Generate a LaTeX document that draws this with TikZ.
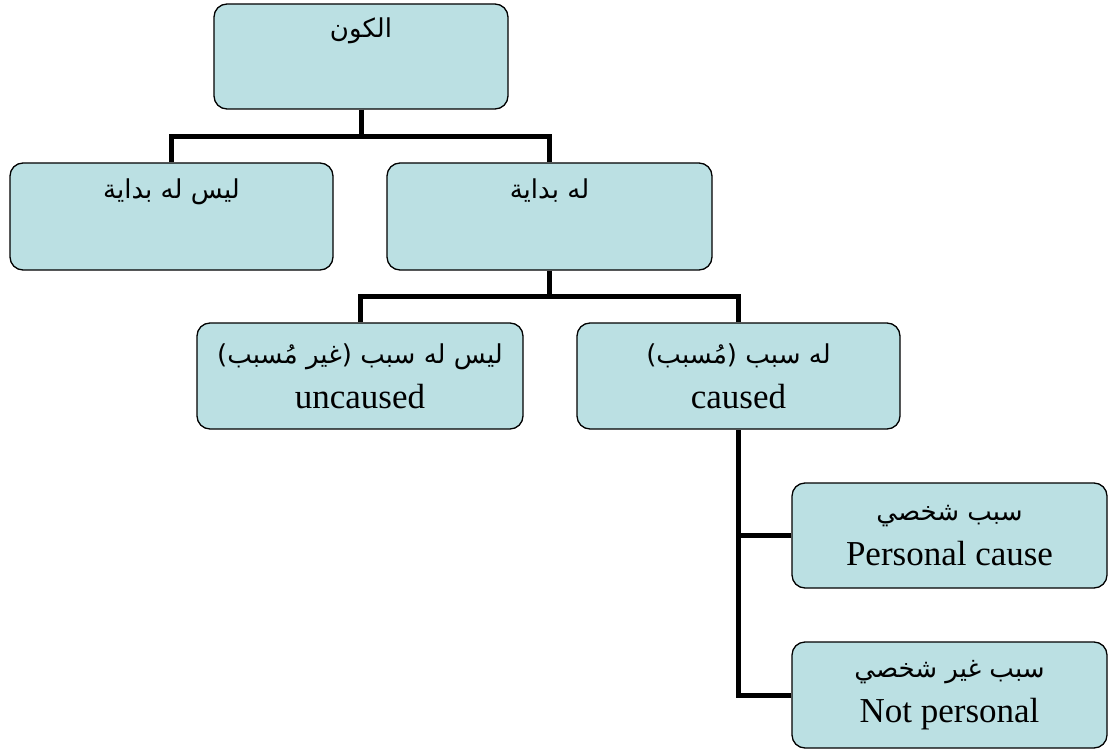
\documentclass[tikz,border=0pt]{standalone}
\usepackage{fontspec}
\setmainfont{Liberation Serif}
\newfontfamily\arabicfont[Script=Arabic]{DejaVu Sans}
\TeXXeTstate=1
\usetikzlibrary{positioning}
\definecolor{boxblue}{RGB}{187,224,227}
\tikzset{
  box/.style={draw, fill=boxblue, rounded corners=13pt, line width=1.3pt, inner sep=0pt},
  conn/.style={line width=5pt},
  ar/.style={anchor=base, font=\arabicfont\fontsize{26}{30}\selectfont},
  lbl/.style={align=center, font=\fontsize{35}{45}\selectfont}
}
\newcommand{\ar}[1]{{\arabicfont\fontsize{26}{30}\selectfont\beginR #1\endR}}
\begin{document}
\begin{tikzpicture}[x=1pt,y=-1pt]
\useasboundingbox (0,0) rectangle (1110,751);

\node[box, minimum width=294, minimum height=105](kawn) at (361,56.5){};
\node[box, minimum width=323, minimum height=107](nobeg) at (171.5,216.5){};
\node[box, minimum width=325, minimum height=107](beg) at (549.5,216.5){};
\node[box, minimum width=326, minimum height=106, lbl](uncaused) at (360,376){\ar{ليس له سبب (غير مُسبب)}\\uncaused};
\node[box, minimum width=323, minimum height=106, lbl](caused) at (738.5,376){\ar{له سبب (مُسبب)}\\caused};
\node[box, minimum width=315, minimum height=105, lbl](personal) at (949.5,535.5){\ar{سبب شخصي}\\Personal cause};
\node[box, minimum width=315, minimum height=106, lbl](notpersonal) at (949.5,695){\ar{سبب غير شخصي}\\Not personal};

% titles at the top of the upper boxes
\node[ar](kawnT) at (361,38){\beginR الكون\endR};
\node[ar](nobegT) at (171.5,199){\beginR ليس له بداية\endR};
\node[ar](begT) at (549.5,199){\beginR له بداية\endR};

\coordinate(j1) at (361,137);
\coordinate(j2) at (549.5,296);

\draw[conn](kawn.south)--(j1);
\draw[conn](nobeg.north)|-(j1);
\draw[conn](beg.north)|-(j1);
\draw[conn](beg.south)--(j2);
\draw[conn](uncaused.north)|-(j2);
\draw[conn](caused.north)|-(j2);
\draw[conn](personal.west)-|(caused.south);
\draw[conn](notpersonal.west)-|(caused.south);
\end{tikzpicture}
\end{document}
